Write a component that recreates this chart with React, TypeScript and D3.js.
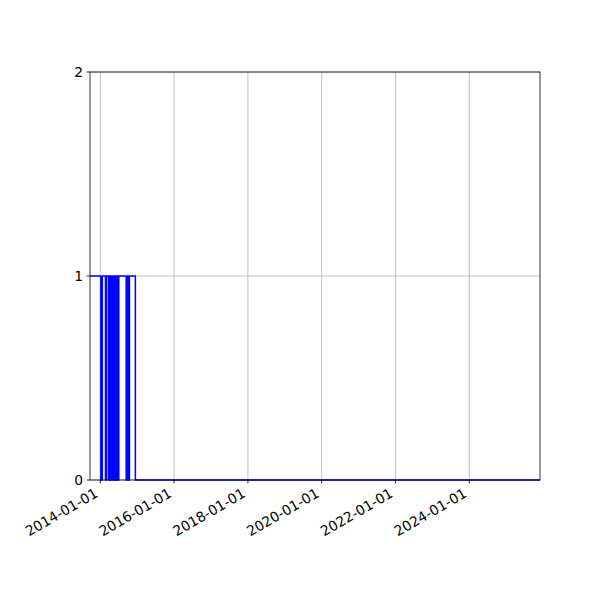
import React from "react";
import * as d3 from "d3";

// Step series: date at which the value switches, and the value from that date on
const stepDates = [
  "2013-09-21", "2014-01-06", "2014-01-21", "2014-02-21", "2014-03-01",
  "2014-03-21", "2014-03-28", "2014-04-05", "2014-04-13", "2014-04-21",
  "2014-04-29", "2014-05-07", "2014-05-15", "2014-05-23", "2014-05-31",
  "2014-06-07", "2014-06-15", "2014-06-23", "2014-07-03", "2014-09-14",
  "2014-09-24", "2014-10-06", "2014-10-16", "2014-12-14", "2025-12-01",
];
const stepValues = [
  1, 0, 1, 0, 1,
  0, 1, 0, 1, 0,
  1, 0, 1, 0, 1,
  0, 1, 0, 1, 0,
  1, 0, 1, 0, 0,
];
const xTickLabels = ["2014-01-01", "2016-01-01", "2018-01-01", "2020-01-01", "2022-01-01", "2024-01-01"];
const yTickValues = [0, 1, 2];

const W = 600;
const H = 600;
const M = { left: 90, right: 540, top: 72, bottom: 480 };
const FONT = "DejaVu Sans";
const FS = 13.9;

export default function App() {
  const parse = d3.utcParse("%Y-%m-%d");
  const data = stepDates.map((d, i) => ({ date: parse(d) as Date, value: stepValues[i] }));
  const x = d3
    .scaleUtc()
    .domain(d3.extent(data, (d) => d.date) as [Date, Date])
    .range([M.left, M.right]);
  const y = d3.scaleLinear().domain([0, 2]).range([M.bottom, M.top]);
  const line = d3
    .line<{ date: Date; value: number }>()
    .x((d) => x(d.date))
    .y((d) => y(d.value))
    .curve(d3.curveStepAfter);
  const xTicks = xTickLabels.map((s) => ({ label: s, pos: x(parse(s) as Date) }));

  return (
    <svg width={W} height={H} style={{ position: "absolute", left: 0, top: 0 }}>
      <rect x={0} y={0} width={W} height={H} fill="white" />
      {/* grid */}
      {xTicks.map((t) => (
        <line key={"gx" + t.label} x1={t.pos} x2={t.pos} y1={M.top} y2={M.bottom} stroke="#b0b0b0" strokeWidth={0.8} />
      ))}
      {yTickValues.map((v) => (
        <line key={"gy" + v} x1={M.left} x2={M.right} y1={y(v)} y2={y(v)} stroke="#b0b0b0" strokeWidth={0.8} />
      ))}
      {/* data */}
      <path d={line(data) || ""} fill="none" stroke="#0000ff" strokeWidth={1.5} strokeLinejoin="round" />
      {/* spines */}
      <rect x={M.left} y={M.top} width={M.right - M.left} height={M.bottom - M.top} fill="none" stroke="black" strokeWidth={0.8} />
      {/* x ticks */}
      {xTicks.map((t) => (
        <g key={"xt" + t.label}>
          <line x1={t.pos} x2={t.pos} y1={M.bottom} y2={M.bottom + 3.5} stroke="black" strokeWidth={0.8} />
          <text
            x={0}
            y={0}
            transform={`translate(${t.pos - 1.5},${M.bottom + 16.2}) rotate(-30)`}
            textAnchor="end"
            fontFamily={FONT}
            fontSize={FS}
            fill="black"
          >
            {t.label}
          </text>
        </g>
      ))}
      {/* y ticks */}
      {yTickValues.map((v) => (
        <g key={"yt" + v}>
          <line x1={M.left - 3.5} x2={M.left} y1={y(v)} y2={y(v)} stroke="black" strokeWidth={0.8} />
          <text x={M.left - 7} y={y(v)} dy="0.36em" textAnchor="end" fontFamily={FONT} fontSize={FS} fill="black">
            {v}
          </text>
        </g>
      ))}
    </svg>
  );
}
